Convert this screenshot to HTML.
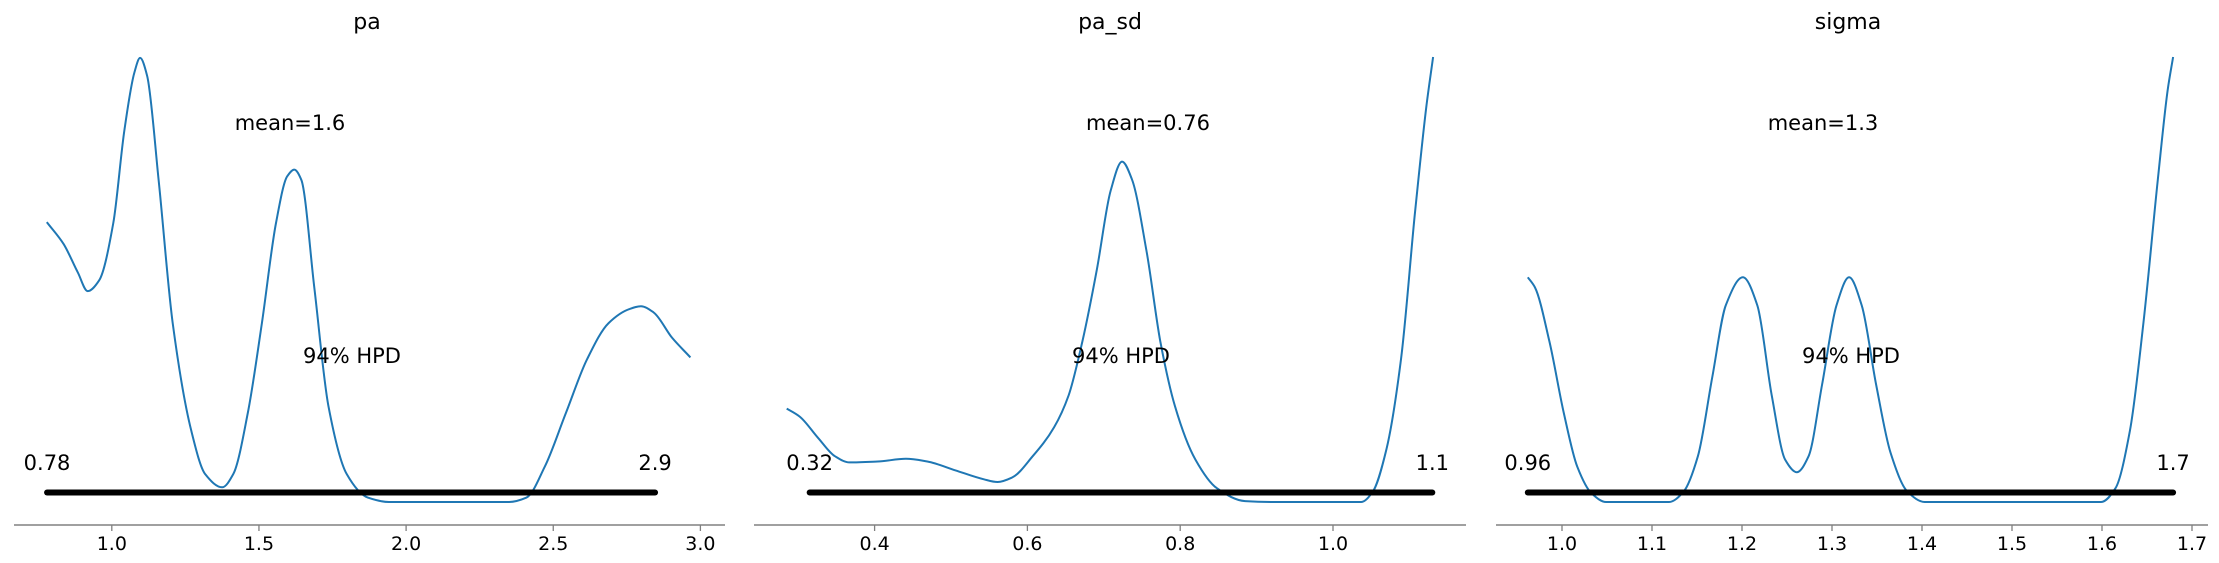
<!DOCTYPE html>
<html><head><meta charset="utf-8"><style>
html,body{margin:0;padding:0;background:#fff;}
svg{display:block;font-family:"DejaVu Sans","Liberation Sans",sans-serif;}
</style></head><body>
<svg id="chart" width="2219" height="563" viewBox="0 0 2219 563" xmlns="http://www.w3.org/2000/svg"></svg>
<script>
const titles = ["pa", "pa_sd", "sigma"];
const meanLabels = ["mean=1.6", "mean=0.76", "mean=1.3"];
const hpdLow = [0.78, 0.315, 0.962];
const hpdHigh = [2.846, 1.13, 1.679];
const hpdLowLabels = ["0.78", "0.32", "0.96"];
const hpdHighLabels = ["2.9", "1.1", "1.7"];
const ticks0 = [1.0, 1.5, 2.0, 2.5, 3.0];
const ticks1 = [0.4, 0.6, 0.8, 1.0];
const ticks2 = [1.0, 1.1, 1.2, 1.3, 1.4, 1.5, 1.6, 1.7];
const tickLabels0 = ["1.0","1.5","2.0","2.5","3.0"];
const tickLabels1 = ["0.4","0.6","0.8","1.0"];
const tickLabels2 = ["1.0","1.1","1.2","1.3","1.4","1.5","1.6","1.7"];
const xs0 = [0.779,0.837,0.885,0.918,0.957,1.005,1.043,1.077,1.096,1.12,1.159,1.207,1.27,1.317,1.375,1.413,1.462,1.51,1.558,1.596,1.62,1.644,1.688,1.736,1.798,1.87,1.942,2.35,2.409,2.471,2.543,2.615,2.688,2.76,2.798,2.841,2.904,2.966];
const ds0 = [0.629,0.579,0.515,0.474,0.498,0.627,0.837,0.966,0.998,0.958,0.724,0.402,0.16,0.063,0.033,0.063,0.2,0.402,0.627,0.732,0.747,0.724,0.482,0.216,0.063,0.01,0,0,0.01,0.079,0.2,0.321,0.402,0.434,0.44,0.426,0.369,0.325];
const xs1 = [0.285,0.302,0.326,0.348,0.367,0.404,0.441,0.469,0.506,0.543,0.561,0.58,0.607,0.635,0.654,0.672,0.691,0.709,0.724,0.737,0.756,0.774,0.793,0.82,0.848,0.885,0.922,1.037,1.052,1.07,1.089,1.107,1.122,1.131];
const ds1 = [0.21,0.192,0.144,0.103,0.089,0.091,0.097,0.091,0.071,0.051,0.045,0.055,0.103,0.168,0.24,0.361,0.523,0.7,0.765,0.724,0.563,0.361,0.216,0.095,0.031,0.002,0,0,0.023,0.119,0.321,0.644,0.886,1];
const xs2 = [0.962,0.97,0.986,1.002,1.017,1.033,1.049,1.119,1.135,1.151,1.167,1.182,1.201,1.217,1.233,1.248,1.261,1.274,1.289,1.305,1.319,1.333,1.349,1.365,1.384,1.403,1.599,1.615,1.631,1.646,1.662,1.673,1.679];
const ds2 = [0.505,0.482,0.361,0.2,0.079,0.019,0,0,0.023,0.103,0.281,0.442,0.505,0.442,0.24,0.095,0.067,0.103,0.264,0.442,0.505,0.442,0.264,0.111,0.023,0,0,0.031,0.16,0.402,0.724,0.926,1];

const NS = "http://www.w3.org/2000/svg";
const svg = document.getElementById("chart");
function mk(tag, attrs, parent){ const e=document.createElementNS(NS,tag); for(const k in attrs) e.setAttribute(k,attrs[k]); (parent||svg).appendChild(e); return e; }

// monotone cubic path through points
function monotonePath(X, Y){
  const n = X.length, dx=[], m=[], t=new Array(n);
  for(let i=0;i<n-1;i++){ dx.push(X[i+1]-X[i]); m.push((Y[i+1]-Y[i])/(X[i+1]-X[i])); }
  t[0]=m[0]; t[n-1]=m[n-2];
  for(let i=1;i<n-1;i++){
    if(m[i-1]*m[i]<=0) t[i]=0;
    else { const w1=2*dx[i]+dx[i-1], w2=dx[i]+2*dx[i-1]; t[i]=(w1+w2)/(w1/m[i-1]+w2/m[i]); }
  }
  let d = "M"+X[0].toFixed(1)+","+Y[0].toFixed(1);
  for(let i=0;i<n-1;i++){
    const h=dx[i]/3;
    d += "C"+(X[i]+h).toFixed(1)+","+(Y[i]+t[i]*h).toFixed(1)+" "+(X[i+1]-h).toFixed(1)+","+(Y[i+1]-t[i+1]*h).toFixed(1)+" "+X[i+1].toFixed(1)+","+Y[i+1].toFixed(1);
  }
  return d;
}

const panels = [
  {x0:1.0, px0:111.8, scale:294.3, sL:14, sR:725, ticks:ticks0, tl:tickLabels0, xs:xs0, ds:ds0, tx:367, mx:290, hx:352},
  {x0:0.4, px0:874.6, scale:764, sL:754, sR:1466, ticks:ticks1, tl:tickLabels1, xs:xs1, ds:ds1, tx:1110, mx:1148, hx:1121},
  {x0:1.0, px0:1562, scale:900, sL:1496, sR:2208, ticks:ticks2, tl:tickLabels2, xs:xs2, ds:ds2, tx:1848, mx:1823, hx:1851}
];
const yBase = 502, yTop = 57;
function yScale(d){ return yBase - d*(yBase-yTop); }

panels.forEach((p,i)=>{
  const xScale = v => p.px0 + (v - p.x0)*p.scale;
  const g = mk("g",{});
  
  
  const t = mk("text",{x:p.tx,y:29,"text-anchor":"middle","font-size":22,fill:"#000"},g);
  t.textContent = titles[i];
  
  
  const spine = mk("line",{x1:p.sL,x2:p.sR,y1:525,y2:525,stroke:"#808080","stroke-width":1.5},g);
  
  
  p.ticks.forEach((tv,j)=>{
    const x = xScale(tv);
    const tk = mk("line",{x1:x,x2:x,y1:525,y2:531,stroke:"#808080","stroke-width":1.3},g);
    
    
    const lb = mk("text",{x:x,y:550,"text-anchor":"middle","font-size":19,fill:"#000"},g);
    lb.textContent = p.tl[j];
    
    
  });
  const X = p.xs.map(xScale), Y = p.ds.map(yScale);
  const path = mk("path",{d:monotonePath(X,Y),fill:"none",stroke:"#1f77b4","stroke-width":2,"stroke-linejoin":"round"},g);
  
  
  const bar = mk("line",{x1:xScale(hpdLow[i]),x2:xScale(hpdHigh[i]),y1:492.5,y2:492.5,stroke:"#000","stroke-width":6,"stroke-linecap":"round"},g);
  
  
  const lo = mk("text",{x:xScale(hpdLow[i]),y:470,"text-anchor":"middle","font-size":21,fill:"#000"},g);
  lo.textContent = hpdLowLabels[i];
  
  
  const hi = mk("text",{x:xScale(hpdHigh[i]),y:470,"text-anchor":"middle","font-size":21,fill:"#000"},g);
  hi.textContent = hpdHighLabels[i];
  
  
  const m = mk("text",{x:p.mx,y:130,"text-anchor":"middle","font-size":21,fill:"#000"},g);
  m.textContent = meanLabels[i];
  
  
  const h = mk("text",{x:p.hx,y:363,"text-anchor":"middle","font-size":21,fill:"#000"},g);
  h.textContent = "94% HPD";
  
  
});
</script>
</body></html>
